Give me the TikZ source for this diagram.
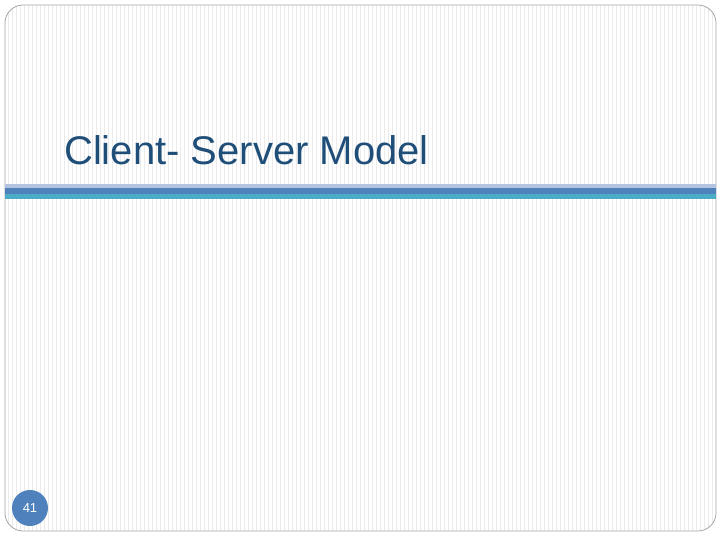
\documentclass[tikz,border=0pt]{standalone}
\usepackage{fontspec}
\setmainfont{Liberation Sans}
\definecolor{titleblue}{HTML}{1F4E79}
\definecolor{bandlight}{HTML}{B4C4E0}
\definecolor{banddark}{HTML}{4F81BD}
\definecolor{bandteal}{HTML}{4BACC6}
\definecolor{stripe}{HTML}{EBEBEB}
\tikzset{frame/.style={draw=gray!70,line width=0.8pt,rounded corners=18pt},
stripeline/.style={stripe,line width=0.6pt}}
\begin{document}
\begin{tikzpicture}[x=1pt,y=-1pt]
\useasboundingbox (0,0) rectangle (720,540);
\fill[white] (0,0) rectangle (720,540);
\begin{scope}
\clip[rounded corners=18pt] (5,5) rectangle (716,531);
\foreach \i in {0,...,178}{\draw[stripeline] (8+\i*4,5) -- (8+\i*4,531);}
\end{scope}
\draw[frame] (5,5) rectangle (716,531);
\fill[bandlight] (5,184) rectangle (716,188);
\fill[banddark] (5,188) rectangle (716,194);
\fill[bandteal] (5,194) rectangle (716,199);
\node[anchor=base west,text=titleblue,font=\fontsize{40}{46}\selectfont,inner sep=0] (title) at (64,165) {Client- Server Model};
\node[circle,fill=banddark,minimum size=36pt,inner sep=0,text=white,font=\fontsize{13}{15}\selectfont] (num) at (30,508) {41};
\end{tikzpicture}
\end{document}
